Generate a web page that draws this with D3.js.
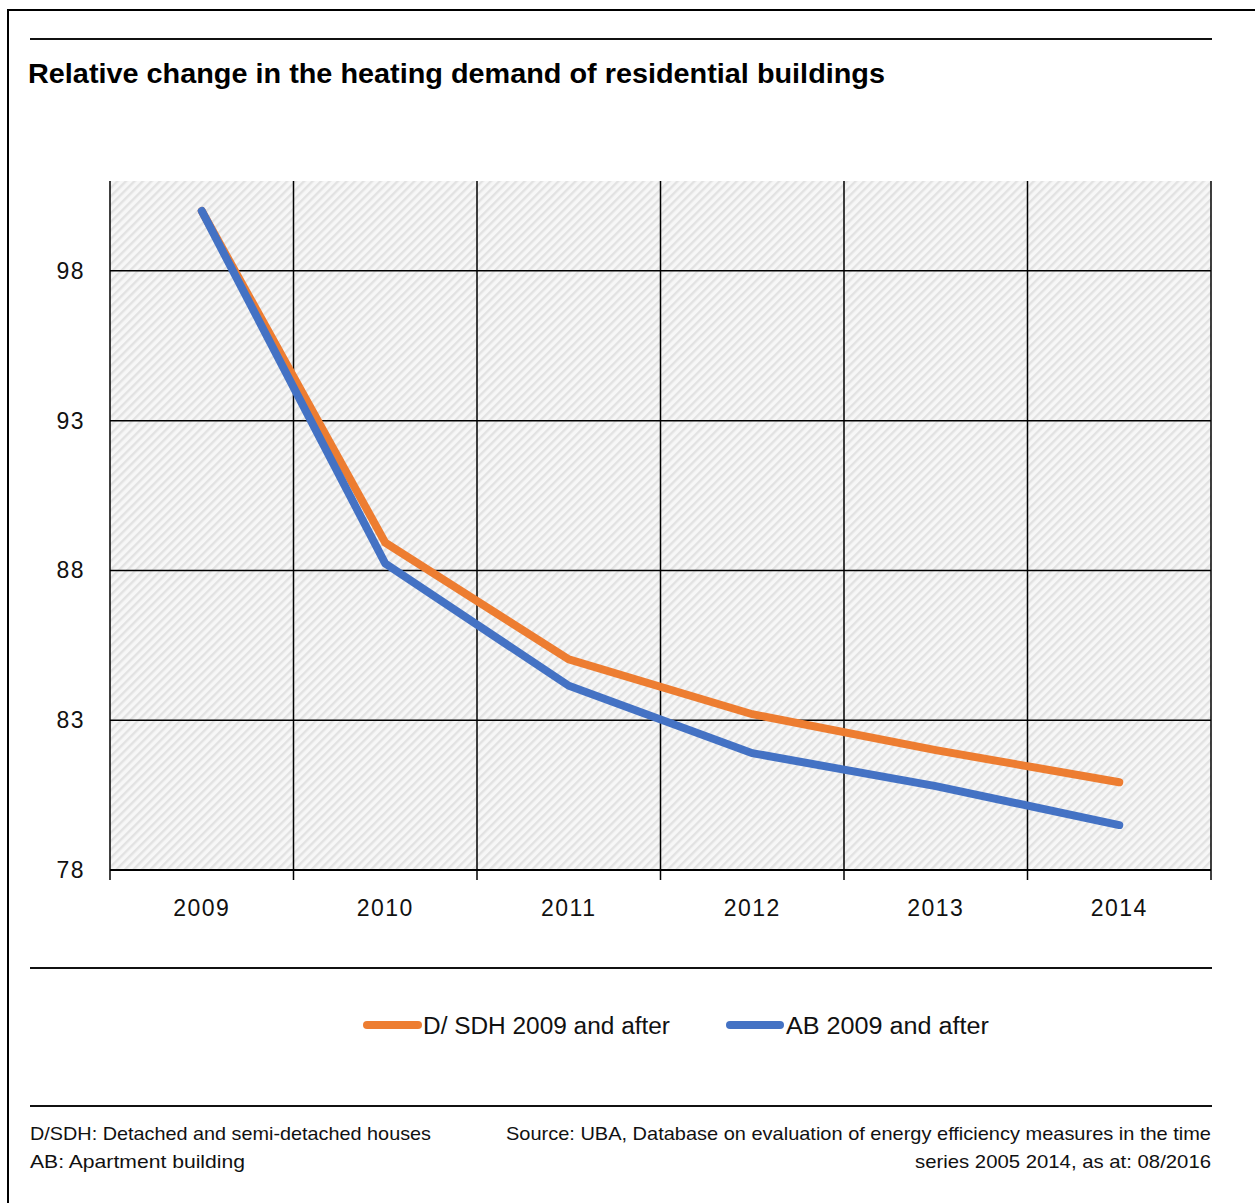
<!DOCTYPE html>
<html>
<head>
<meta charset="utf-8">
<script src="https://cdn.jsdelivr.net/npm/d3@7"></script>
<style>
  html, body { margin: 0; padding: 0; background: #fff; }
  svg { display: block; font-family: "Liberation Sans", Arial, sans-serif; }
</style>
</head>
<body>
<svg id="chart" width="1255" height="1203"></svg>
<script>
const years = ["2009", "2010", "2011", "2012", "2013", "2014"];
const dsdhValues = [100, 88.93, 85.03, 83.2, 82.0, 80.93];
const abValues = [100, 88.23, 84.15, 81.9, 80.8, 79.5];
const yTicks = [78, 83, 88, 93, 98];
const seriesNames = ["D/ SDH 2009 and after", "AB 2009 and after"];
const seriesColors = ["#ED7D31", "#4472C4"];
const titleText = "Relative change in the heating demand of residential buildings";
const footLeft = ["D/SDH: Detached and semi-detached houses", "AB: Apartment building"];
const footRight = ["Source: UBA, Database on evaluation of energy efficiency measures in the time", "series 2005 2014, as at: 08/2016"];

const svg = d3.select("#chart");

// outer frame
svg.append("rect").attr("x", 8).attr("y", 10).attr("width", 1260).attr("height", 1210)
  .attr("fill", "none").attr("stroke", "#000").attr("stroke-width", 2);

// rules
[39, 968, 1106].forEach(y => {
  svg.append("line").attr("x1", 30).attr("x2", 1212).attr("y1", y).attr("y2", y)
    .attr("stroke", "#111").attr("stroke-width", 2);
});

// title
svg.append("text").attr("x", 28).attr("y", 83)
  .attr("font-size", 28).attr("font-weight", "bold").attr("fill", "#000")
  .attr("textLength", 857).attr("lengthAdjust", "spacingAndGlyphs")
  .text(titleText);

// pattern
const defs = svg.append("defs");
const pat = defs.append("pattern").attr("id", "hatch").attr("patternUnits", "userSpaceOnUse")
  .attr("width", 6).attr("height", 6).attr("patternTransform", "rotate(45)");
pat.append("rect").attr("width", 6).attr("height", 6).attr("fill", "#f7f7f7");
pat.append("rect").attr("x", 0).attr("width", 2.4).attr("height", 6).attr("fill", "#e2e2e2");

const margin = { left: 110, right: 1211, top: 181, bottom: 870 };
const x = d3.scaleBand().domain(years).range([margin.left, margin.right]).padding(0);
const y = d3.scaleLinear().domain([78, 101]).range([margin.bottom, margin.top]);

svg.append("rect").attr("x", margin.left).attr("y", margin.top)
  .attr("width", margin.right - margin.left).attr("height", margin.bottom - margin.top)
  .attr("fill", "url(#hatch)");

// horizontal gridlines
svg.append("g").selectAll("line").data(yTicks.filter(t => t !== 78)).join("line")
  .attr("x1", margin.left).attr("x2", margin.right)
  .attr("y1", d => y(d)).attr("y2", d => y(d))
  .attr("stroke", "#000").attr("stroke-width", 1.5);

// vertical gridlines at band boundaries (incl. ticks below axis)
const bounds = years.map(d => x(d)).concat([margin.right]);
svg.append("g").selectAll("line").data(bounds).join("line")
  .attr("x1", d => d).attr("x2", d => d)
  .attr("y1", margin.top).attr("y2", margin.bottom + 10)
  .attr("stroke", "#000").attr("stroke-width", 1.5);

// bottom axis line
svg.append("line").attr("x1", margin.left).attr("x2", margin.right)
  .attr("y1", margin.bottom).attr("y2", margin.bottom)
  .attr("stroke", "#000").attr("stroke-width", 2);

// y labels
const yAxis = d3.axisLeft(y).tickValues(yTicks).tickSize(0).tickPadding(25);
const gy = svg.append("g").attr("transform", `translate(${margin.left},0)`).call(yAxis);
gy.select(".domain").remove();
gy.selectAll("text").attr("font-size", 23).attr("fill", "#111")
  .attr("font-family", "Liberation Sans, Arial, sans-serif").attr("letter-spacing", 1.5);

// x labels
const xAxis = d3.axisBottom(x).tickSize(0).tickPadding(30);
const gx = svg.append("g").attr("transform", `translate(0,${margin.bottom})`).call(xAxis);
gx.select(".domain").remove();
gx.selectAll("text").attr("font-size", 23).attr("fill", "#111")
  .attr("font-family", "Liberation Sans, Arial, sans-serif").attr("letter-spacing", 1.5);

// lines
const line = d3.line().x((d, i) => x(years[i]) + x.bandwidth() / 2).y(d => y(d));
[dsdhValues, abValues].forEach((vals, i) => {
  svg.append("path").datum(vals).attr("d", line)
    .attr("fill", "none").attr("stroke", seriesColors[i]).attr("stroke-width", 8)
    .attr("stroke-linecap", "round").attr("stroke-linejoin", "miter");
});

// legend
const legendItems = [
  { x1: 367, x2: 418, tx: 423, w: 247 },
  { x1: 730, x2: 780, tx: 786, w: 203 }
];
legendItems.forEach((it, i) => {
  svg.append("line").attr("x1", it.x1).attr("x2", it.x2).attr("y1", 1025).attr("y2", 1025)
    .attr("stroke", seriesColors[i]).attr("stroke-width", 8).attr("stroke-linecap", "round");
  svg.append("text").attr("x", it.tx).attr("y", 1034).attr("font-size", 23).attr("fill", "#111")
    .attr("textLength", it.w).attr("lengthAdjust", "spacingAndGlyphs")
    .text(seriesNames[i]);
});

// footer
const leftW = [401, 215];
footLeft.forEach((t, i) => {
  svg.append("text").attr("x", 30).attr("y", 1140 + i * 28).attr("font-size", 19).attr("fill", "#111")
    .attr("textLength", leftW[i]).attr("lengthAdjust", "spacingAndGlyphs").text(t);
});
const rightW = [705, 296];
footRight.forEach((t, i) => {
  svg.append("text").attr("x", 1211 - rightW[i]).attr("y", 1140 + i * 28).attr("font-size", 19).attr("fill", "#111")
    .attr("textLength", rightW[i]).attr("lengthAdjust", "spacingAndGlyphs").text(t);
});
</script>
</body>
</html>
